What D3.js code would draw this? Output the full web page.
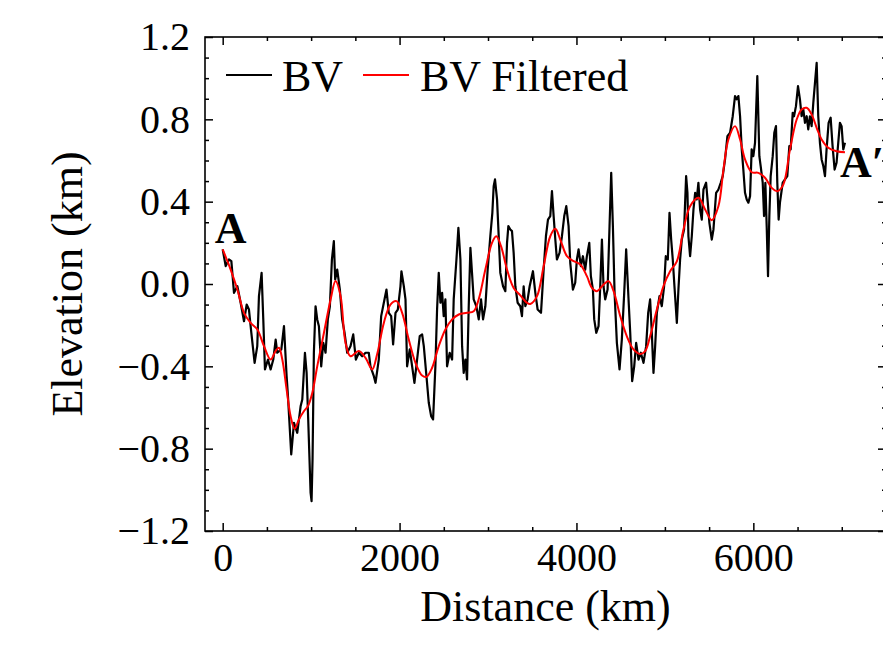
<!DOCTYPE html>
<html>
<head>
<meta charset="utf-8">
<script src="https://cdn.jsdelivr.net/npm/d3@7"></script>
<style>
  body { margin: 0; background: #fff; }
  svg { display: block; font-family: "Liberation Serif", "Times New Roman", serif; }
  .tick line { stroke: #000; stroke-width: 1.5; }
</style>
</head>
<body>
<div id="chart"></div>
<script>
// BV profile, distance (km) and elevation (km)
const bvDist = [0,34,71,98,128,166,203,241,271,297,324,361,391,410,440,459,478,512,542,572,599,617,663,693,723,738,775,806,843,881,900,930,949,967,994,1005,1016,1031,1050,1069,1088,1114,1137,1163,1189,1212,1235,1257,1272,1295,1325,1351,1378,1408,1445,1476,1506,1540,1577,1615,1652,1671,1709,1728,
  1765,1792,1822,1852,1878,1905,1927,1954,1980,2010,2021,2048,2067,2085,2115,2142,2168,2198,2228,2255,2274,2304,2330,2357,2379,2405,2424,2443,2462,2481,2499,2518,2537,2567,2594,2612,2643,2665,2688,2707,2725,2744,2763,2782,2801,2819,2838,2868,2895,2921,2944,2970,2996,3026,3049,3064,3079,3102,3121,3139,3170,3196,3215,3230,3252,3271,3290,3309,3335,3365,3384,
  3403,3422,3448,3471,3508,3535,3561,3599,3629,3655,3678,3704,3723,3742,3761,3779,3809,3836,3862,3885,3911,3930,3960,3986,4005,4024,4050,4073,4099,4118,4145,4163,4186,4201,4224,4250,4269,4288,4306,4325,4352,4374,4393,4412,4431,4457,4487,4513,4540,4562,4589,4608,4630,4653,4675,4702,4728,4758,4788,4811,4833,4852,4871,4890,4909,4939,4965,4991,5010,5033,5052,5071,5089,5108,5135,5153,5172,
  5191,5217,5240,5255,5266,5285,5304,5323,5342,5360,5379,5398,5417,5436,5466,5485,5503,5530,5549,5579,5605,5631,5654,5680,5707,5737,5767,5793,5812,5831,5850,5869,5887,5906,5925,5944,5963,5981,6000,6019,6045,6068,6083,6106,6121,6136,6151,6166,6181,6196,6219,6237,6256,6271,6286,6301,6332,6358,6384,6407,6422,6445,6460,6482,6505,6527,6546,6565,6584,6603,6621,6640,6659,6678,6697,6716,6734,6753,6772,6791,6810,6828,6851,6874,6896,6919,6941,6960,6979,6998,7017,7036];
const bvElev = [0.168,0.087,0.119,0.111,-0.043,-0.011,-0.091,-0.181,-0.10,-0.124,-0.237,-0.383,-0.302,-0.059,0.054,-0.172,-0.415,-0.367,-0.415,-0.367,-0.27,-0.334,-0.318,-0.205,-0.448,-0.545,-0.828,-0.675,-0.723,-0.594,-0.561,-0.334,-0.432,-0.658,-1.015,-1.055,-0.853,-0.334,-0.108,-0.172,-0.205,-0.40,-0.286,-0.334,-0.172,-0.108,0.119,0.208,0.022,0.07,-0.027,-0.172,-0.237,-0.334,-0.302,-0.245,-0.367,-0.334,-0.351,-0.334,-0.334,-0.40,-0.448,-0.48,
  -0.367,-0.156,-0.091,-0.027,-0.14,-0.156,-0.294,-0.14,-0.124,-0.011,0.062,-0.011,-0.075,-0.40,-0.318,-0.40,-0.48,-0.367,-0.253,-0.245,-0.302,-0.448,-0.577,-0.642,-0.658,-0.40,-0.124,0.054,-0.091,-0.043,-0.156,-0.075,-0.40,-0.334,-0.367,-0.075,0.119,0.273,0.119,-0.302,-0.432,-0.367,-0.464,-0.108,0.176,0.054,-0.075,-0.108,-0.172,-0.075,-0.172,-0.108,0.07,0.232,0.346,0.475,0.508,0.411,0.232,0.054,-0.011,-0.035,0.2,0.281,0.265,0.257,0.151,-0.011,-0.091,-0.108,-0.156,
  -0.011,-0.108,-0.075,-0.011,0.062,-0.043,-0.124,-0.14,0.07,0.232,0.313,0.33,0.451,0.33,0.216,0.119,0.151,0.232,0.33,0.378,0.281,0.103,-0.027,0.006,0.119,0.168,0.087,0.135,0.07,0.135,0.2,0.038,-0.027,-0.172,-0.237,-0.205,-0.011,0.216,-0.011,-0.075,-0.027,0.281,0.54,0.281,-0.043,-0.286,-0.415,-0.27,-0.043,0.168,-0.075,-0.237,-0.472,-0.40,-0.286,-0.367,-0.334,-0.383,-0.302,-0.14,-0.075,-0.237,-0.432,-0.302,-0.14,-0.059,-0.108,-0.011,0.135,0.119,0.346,0.216,0.119,-0.011,-0.189,-0.027,0.119,
  0.216,0.265,0.524,0.443,0.232,0.135,0.232,0.362,0.443,0.411,0.492,0.362,0.313,0.459,0.492,0.395,0.297,0.216,0.265,0.443,0.459,0.492,0.524,0.605,0.718,0.735,0.815,0.913,0.897,0.913,0.815,0.654,0.556,0.443,0.411,0.395,0.427,0.654,0.621,0.686,1.01,0.621,0.573,0.492,0.33,0.492,0.281,0.038,0.33,0.524,0.621,0.735,0.767,0.492,0.313,0.395,0.492,0.508,0.524,0.67,0.654,0.832,0.815,0.864,0.961,0.897,0.815,0.848,0.783,0.815,0.751,0.815,0.767,0.88,0.977,1.075,0.815,0.686,0.605,0.573,0.524,0.654,0.783,0.808,0.67,0.556,0.589,0.686,0.783,0.767,0.654,0.686];

// BV filtered profile
const filtDist = [0,90,166,241,316,392,467,542,598,636,674,723,768,813,862,918,963,1013,1069,1145,1220,1276,1333,1389,1445,1539,1615,1690,1747,1822,1897,1965,2029,2104,2180,2255,2304,2368,2443,2518,2594,2669,2762,2838,2894,2970,3045,3094,3147,3215,3290,3365,3440,3478,3554,3629,3704,3761,3817,3893,3968,4043,4118,4175,4231,4306,4363,4420,4495,4570,4645,4720,4777,4833,4909,4984,5059,5135,5210,5285,5379,5455,5530,5605,5662,5718,5793,5850,5906,5982,6057,6132,6208,6271,6339,6414,6490,6546,6603,6659,6716,6772,6847,6941,7036];
const filtElev = [0.168,0.07,-0.027,-0.14,-0.189,-0.221,-0.302,-0.367,-0.326,-0.31,-0.367,-0.513,-0.642,-0.704,-0.658,-0.618,-0.594,-0.529,-0.40,-0.237,-0.075,0.014,-0.059,-0.286,-0.351,-0.326,-0.359,-0.415,-0.34,-0.189,-0.10,-0.083,-0.14,-0.27,-0.383,-0.445,-0.451,-0.407,-0.302,-0.221,-0.172,-0.148,-0.14,-0.132,-0.075,0.07,0.2,0.232,0.184,0.07,-0.019,-0.055,-0.091,-0.097,-0.059,0.086,0.232,0.268,0.216,0.135,0.111,0.095,0.038,-0.019,-0.035,-0.003,0.014,-0.035,-0.156,-0.254,-0.318,-0.34,-0.326,-0.254,-0.124,-0.01,0.062,0.11,0.265,0.378,0.419,0.362,0.31,0.378,0.556,0.702,0.767,0.702,0.605,0.543,0.54,0.516,0.467,0.451,0.483,0.653,0.799,0.848,0.856,0.824,0.759,0.702,0.662,0.645,0.64];

const xMajor = [0, 2000, 4000, 6000];
const xMinor = [500,1000,1500,2500,3000,3500,4500,5000,5500,6500,7000,7500];
const yMajor = [-1.2, -0.8, -0.4, 0, 0.4, 0.8, 1.2];
const yMinor = [-1.1,-1.0,-0.9,-0.7,-0.6,-0.5,-0.3,-0.2,-0.1,0.1,0.2,0.3,0.5,0.6,0.7,0.9,1.0,1.1];

const width = 883, height = 645;
const box = {left: 205, right: 886, top: 37, bottom: 531};

const svg = d3.select("#chart").append("svg")
    .attr("width", width)
    .attr("height", height);

svg.append("rect").attr("width", width).attr("height", height).attr("fill", "#fff");

const x = d3.scaleLinear().domain([-200, 7500]).range([box.left, box.right]);
const y = d3.scaleLinear().domain([-1.2, 1.2]).range([box.bottom, box.top]);

svg.append("clipPath").attr("id", "plot-clip")
  .append("rect")
    .attr("x", box.left).attr("y", box.top)
    .attr("width", box.right - box.left).attr("height", box.bottom - box.top);

// axes: ticks pointing inward on all four sides
function styleAxis(g) {
    g.select(".domain").remove();
    g.selectAll("text").attr("font-size", 40).attr("fill", "#000")
        .attr("font-family", "Liberation Serif, Times New Roman, serif");
}

svg.append("g").attr("transform", `translate(0,${box.bottom})`)
    .call(d3.axisBottom(x).tickValues(xMajor).tickSize(-8).tickPadding(12).tickFormat(d3.format("d")))
    .call(styleAxis);
svg.append("g").attr("transform", `translate(0,${box.bottom})`)
    .call(d3.axisBottom(x).tickValues(xMinor).tickSize(-4).tickFormat(""))
    .call(styleAxis);
svg.append("g").attr("transform", `translate(0,${box.top})`)
    .call(d3.axisTop(x).tickValues(xMajor).tickSize(-8).tickFormat(""))
    .call(styleAxis);
svg.append("g").attr("transform", `translate(0,${box.top})`)
    .call(d3.axisTop(x).tickValues(xMinor).tickSize(-4).tickFormat(""))
    .call(styleAxis);

svg.append("g").attr("transform", `translate(${box.left},0)`)
    .call(d3.axisLeft(y).tickValues(yMajor).tickSize(-8).tickPadding(15).tickFormat(d3.format(".1f")))
    .call(styleAxis);
svg.append("g").attr("transform", `translate(${box.left},0)`)
    .call(d3.axisLeft(y).tickValues(yMinor).tickSize(-4).tickFormat(""))
    .call(styleAxis);
svg.append("g").attr("transform", `translate(${box.right},0)`)
    .call(d3.axisRight(y).tickValues(yMajor).tickSize(-8).tickFormat(""))
    .call(styleAxis);
svg.append("g").attr("transform", `translate(${box.right},0)`)
    .call(d3.axisRight(y).tickValues(yMinor).tickSize(-4).tickFormat(""))
    .call(styleAxis);

// lines
const plot = svg.append("g").attr("clip-path", "url(#plot-clip)");

const bvLine = d3.line()
    .x((d, i) => x(bvDist[i]))
    .y((d, i) => y(bvElev[i]));
plot.append("path")
    .attr("d", bvLine(bvDist))
    .attr("fill", "none")
    .attr("stroke", "#000")
    .attr("stroke-width", 2.2)
    .attr("stroke-linejoin", "round");

const filtLine = d3.line()
    .curve(d3.curveCatmullRom)
    .x((d, i) => x(filtDist[i]))
    .y((d, i) => y(filtElev[i]));
plot.append("path")
    .attr("d", filtLine(filtDist))
    .attr("fill", "none")
    .attr("stroke", "#ff0000")
    .attr("stroke-width", 2);

// frame
svg.append("rect")
    .attr("x", box.left).attr("y", box.top)
    .attr("width", box.right - box.left).attr("height", box.bottom - box.top)
    .attr("fill", "none").attr("stroke", "#000").attr("stroke-width", 1.6);

// axis labels
svg.append("text")
    .attr("x", (box.left + box.right) / 2).attr("y", 621)
    .attr("text-anchor", "middle").attr("font-size", 44)
    .text("Distance (km)");
svg.append("text")
    .attr("transform", `translate(82,${(box.top + box.bottom) / 2}) rotate(-90)`)
    .attr("text-anchor", "middle").attr("font-size", 44)
    .text("Elevation (km)");

// profile end labels
svg.append("text")
    .attr("x", x(90)).attr("y", y(0.2))
    .attr("text-anchor", "middle").attr("font-size", 44).attr("font-weight", "bold")
    .text("A");
svg.append("text")
    .attr("x", x(6979)).attr("y", y(0.52))
    .attr("font-size", 44).attr("font-weight", "bold")
    .text("A′");

// legend
const legendItems = [
    {label: "BV", color: "#000", x0: 226, tx: 282},
    {label: "BV Filtered", color: "#ff0000", x0: 363, tx: 420}
];
const legend = svg.append("g");
legendItems.forEach(item => {
    legend.append("line")
        .attr("x1", item.x0).attr("x2", item.x0 + 46)
        .attr("y1", 75).attr("y2", 75)
        .attr("stroke", item.color).attr("stroke-width", 2);
    legend.append("text")
        .attr("x", item.tx).attr("y", 91)
        .attr("font-size", 44)
        .text(item.label);
});
</script>
</body>
</html>
